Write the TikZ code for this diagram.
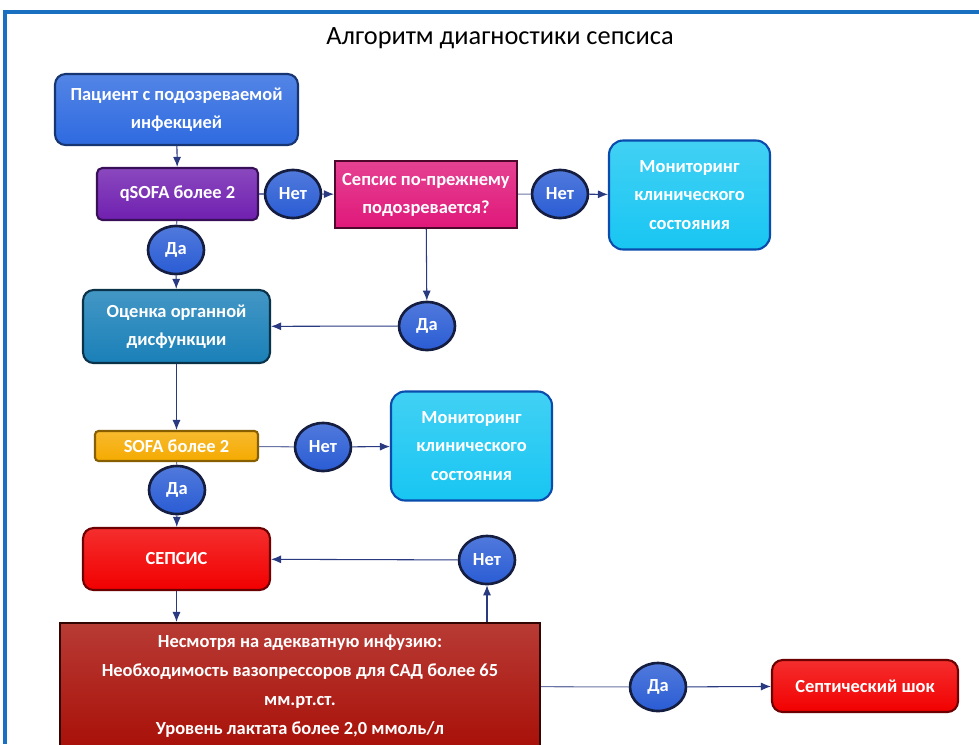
\documentclass[tikz,border=0pt]{standalone}
\usepackage{fontspec}
\setmainfont{Carlito}
\usepackage{tikz}
\usetikzlibrary{positioning,arrows.meta,shapes.geometric}
\definecolor{frameblue}{HTML}{1A70C0}
\definecolor{linenavy}{HTML}{2A3A80}
\definecolor{ovalblue}{HTML}{2A5CD4}
\definecolor{patblue}{HTML}{2E6AE0}
\definecolor{qpurple}{HTML}{7020B0}
\definecolor{suspmag}{HTML}{E0187A}
\definecolor{moncyan}{HTML}{18C6F2}
\definecolor{orgteal}{HTML}{1A80B8}
\definecolor{sofaorange}{HTML}{F5AA00}
\definecolor{sepred}{HTML}{F20000}
\definecolor{shockdark}{HTML}{A81008}
\tikzset{
  flowarrow/.style={-{Latex[length=2mm,width=1.6mm]}, draw=linenavy, line width=0.6pt},
  flowline/.style={draw=linenavy!70, line width=0.6pt},
  boxbase/.style={draw, line width=1.2pt, align=center, text=white, font=\fontsize{10.5}{16}\selectfont\bfseries},
  gloss/.style={top color=#1!82!white, bottom color=#1},
  patbox/.style={boxbase, rounded corners=6pt, gloss=patblue, draw=patblue!50!black, minimum width=4.86cm, minimum height=1.42cm},
  qbox/.style={boxbase, rounded corners=3pt, gloss=qpurple, draw=qpurple!50!black, minimum width=3.22cm, minimum height=1.04cm},
  suspbox/.style={boxbase, gloss=suspmag, draw=suspmag!35!black, minimum width=3.64cm, minimum height=1.34cm},
  monbox/.style={boxbase, rounded corners=8pt, gloss=moncyan, draw=moncyan!55!blue!70!black, minimum width=3.22cm, minimum height=2.18cm},
  orgbox/.style={boxbase, rounded corners=6pt, gloss=orgteal, draw=orgteal!40!black, minimum width=3.74cm, minimum height=1.46cm},
  sofabox/.style={boxbase, rounded corners=2pt, gloss=sofaorange, draw=sofaorange!55!black, minimum width=3.26cm, minimum height=0.6cm},
  sepbox/.style={boxbase, rounded corners=6pt, gloss=sepred, draw=sepred!45!black, minimum width=3.74cm, minimum height=1.24cm},
  bigbox/.style={boxbase, gloss=shockdark, draw=shockdark!30!black, minimum width=9.6cm, minimum height=2.52cm, font=\fontsize{10.5}{16.4}\selectfont\bfseries},
  answer/.style={ellipse, draw=linenavy!50!black, line width=1.5pt, gloss=ovalblue, text=white, inner sep=0pt, minimum width=1.12cm, minimum height=0.96cm, font=\fontsize{10.5}{12}\selectfont\bfseries}
}
\begin{document}
\begin{tikzpicture}[x=0.02cm, y=-0.02cm]
  \useasboundingbox (0,0) rectangle (979,744);
  \fill[white] (0,0) rectangle (979,744);
  % frame
  \draw[frameblue, line width=2.8pt] (3,12) -- (979,12);
  \draw[frameblue, line width=2.4pt] (5,10) -- (5,744);
  \node[font=\fontsize{15}{18}\selectfont] (title) at (500,38) {Алгоритм диагностики сепсиса};

  \node[patbox] (pat) at (176.5,109.5) {Пациент с подозреваемой\\инфекцией};
  \node[qbox] (qsofa) at (177.5,194) {qSOFA более 2};
  \node[answer] (net1) at (293,194) {Нет};
  \node[suspbox] (susp) at (426,194.5) {Сепсис по-прежнему\\подозревается?};
  \node[answer] (net2) at (560,194) {Нет};
  \node[monbox] (mon1) at (689.5,195) {Мониторинг\\клинического\\состояния};
  \node[answer] (da1) at (176,250) {Да};
  \node[orgbox] (organ) at (176.5,326.5) {Оценка органной\\дисфункции};
  \node[answer] (da2) at (427,326) {Да};
  \node[sofabox] (sofa) at (176.5,446) {SOFA более 2};
  \node[answer] (net3) at (323,447) {Нет};
  \node[monbox] (mon2) at (471.5,446) {Мониторинг\\клинического\\состояния};
  \node[answer] (da3) at (177,490) {Да};
  \node[sepbox] (sepsis) at (176.5,559) {СЕПСИС};
  \node[answer] (net4) at (487,560) {Нет};
  \node[bigbox] (big) at (300,686) {Несмотря на адекватную инфузию:\\Необходимость вазопрессоров для САД более 65\\мм.рт.ст.\\Уровень лактата более 2,0 ммоль/л};
  \node[answer] (da4) at (658,687) {Да};
  \node[sepbox, minimum width=3.72cm, minimum height=1.04cm] (shock) at (865,686) {Септический шок};

  % connectors
  \draw[flowarrow] (pat) -- (qsofa);
  \draw[flowline] (qsofa) -- (net1);
  \draw[flowarrow] (net1) -- (susp);
  \draw[flowline] (susp) -- (net2);
  \draw[flowarrow] (net2) -- (mon1);
  \draw[flowline] (qsofa) -- (da1);
  \draw[flowarrow] (da1) -- (organ);
  \draw[flowarrow] (susp) -- (da2);
  \draw[flowarrow] (da2) -- (organ);
  \draw[flowarrow] (organ) -- (sofa);
  \draw[flowline] (sofa) -- (net3);
  \draw[flowarrow] (net3) -- (mon2);
  \draw[flowline] (sofa) -- (da3);
  \draw[flowarrow] (da3) -- (sepsis);
  \draw[flowarrow] (sepsis.south) -- (sepsis.south |- big.north);
  \draw[flowarrow] (big.north -| net4) -- (net4);
  \draw[flowarrow] (net4) -- (sepsis);
  \draw[flowline] (big) -- (da4);
  \draw[flowarrow] (da4) -- (shock);
\end{tikzpicture}
\end{document}
